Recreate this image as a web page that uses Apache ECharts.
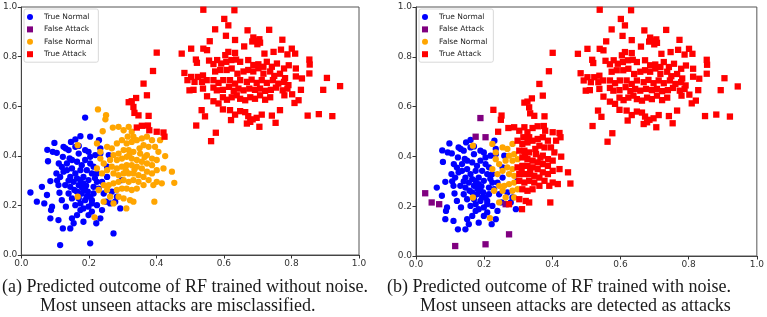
<!DOCTYPE html>
<html>
<head>
<meta charset="utf-8">
<script src="https://cdn.jsdelivr.net/npm/echarts@6/dist/echarts.min.js"></script>
<style>
    html, body {margin: 0; padding: 0; background: #fff;}
    #chart {width: 767px; height: 317px;}
</style>
</head>
<body>
<div id="chart"></div>
<script>
var seriesNames = ['True Normal', 'False Attack', 'False Normal', 'True Attack'];
var tickLabels = ['0.0', '0.2', '0.4', '0.6', '0.8', '1.0'];
var captions = [
    '(a) Predicted outcome of RF trained without noise.',
    'Most unseen attacks are misclassified.',
    '(b) Predicted outcome of RF trained with noise.',
    'Most unseen attacks are detected as attacks'
];

// normal samples, blue in both panels
var normalBase = [
    [0.061, 0.275], [0.076, 0.242], [0.086, 0.148], [0.088, 0.181], [0.091, 0.195], [0.086, 0.298], [0.079, 0.378],
    [0.077, 0.424], [0.098, 0.452], [0.093, 0.416], [0.105, 0.412], [0.104, 0.329], [0.111, 0.369], [0.110, 0.282],
    [0.113, 0.251], [0.110, 0.141], [0.123, 0.107], [0.125, 0.436], [0.123, 0.396], [0.131, 0.430], [0.135, 0.342],
    [0.120, 0.221], [0.132, 0.195], [0.140, 0.423], [0.147, 0.456], [0.160, 0.466], [0.160, 0.436], [0.170, 0.409],
    [0.135, 0.369], [0.150, 0.383], [0.165, 0.376], [0.145, 0.315], [0.160, 0.329], [0.175, 0.342], [0.184, 0.315],
    [0.130, 0.282], [0.145, 0.275], [0.155, 0.295], [0.170, 0.282], [0.184, 0.289], [0.199, 0.302], [0.140, 0.248],
    [0.150, 0.228], [0.165, 0.255], [0.179, 0.248], [0.197, 0.255], [0.204, 0.235], [0.189, 0.221], [0.175, 0.208],
    [0.160, 0.201], [0.184, 0.188], [0.199, 0.195], [0.175, 0.181], [0.165, 0.161], [0.150, 0.148], [0.155, 0.128],
    [0.145, 0.107], [0.184, 0.134], [0.199, 0.161], [0.209, 0.175], [0.224, 0.201], [0.209, 0.208], [0.230, 0.463],
    [0.189, 0.423], [0.199, 0.416], [0.204, 0.396], [0.219, 0.403], [0.234, 0.430], [0.234, 0.409], [0.189, 0.383],
    [0.204, 0.369], [0.214, 0.356], [0.209, 0.329], [0.224, 0.329], [0.224, 0.295], [0.239, 0.295], [0.214, 0.275],
    [0.229, 0.268], [0.244, 0.248], [0.254, 0.315], [0.254, 0.356], [0.259, 0.403], [0.239, 0.181], [0.234, 0.148],
    [0.222, 0.128], [0.251, 0.215], [0.278, 0.215], [0.293, 0.188], [0.268, 0.255], [0.283, 0.235], [0.298, 0.302],
    [0.150, 0.349], [0.179, 0.362], [0.194, 0.342], [0.115, 0.315], [0.125, 0.336], [0.165, 0.309], [0.189, 0.262],
    [0.175, 0.302], [0.214, 0.248], [0.194, 0.235], [0.209, 0.221], [0.140, 0.300], [0.157, 0.262], [0.120, 0.355],
    [0.192, 0.280], [0.170, 0.228], [0.143, 0.390], [0.218, 0.310], [0.106, 0.300], [0.170, 0.440], [0.180, 0.270]
];
// normal samples that the noisy model flags as attacks (purple on the right)
var normalOutliers = [
    [0.027, 0.252], [0.046, 0.215], [0.068, 0.208], [0.115, 0.040], [0.204, 0.047], [0.273, 0.087], [0.189, 0.554],
    [0.175, 0.479], [0.204, 0.477], [0.263, 0.208]
];
// unseen attacks missed by both models
var attackLow = [
    [0.224, 0.450], [0.167, 0.443], [0.234, 0.416], [0.254, 0.436], [0.268, 0.430], [0.283, 0.450], [0.288, 0.409],
    [0.273, 0.403], [0.263, 0.383], [0.283, 0.383], [0.298, 0.389], [0.283, 0.349], [0.268, 0.356], [0.254, 0.342],
    [0.273, 0.329], [0.288, 0.322], [0.288, 0.295], [0.273, 0.289], [0.259, 0.282], [0.244, 0.282], [0.229, 0.262],
    [0.254, 0.262], [0.283, 0.262], [0.298, 0.268], [0.263, 0.235], [0.288, 0.235], [0.244, 0.215], [0.167, 0.235],
    [0.217, 0.152], [0.239, 0.329], [0.224, 0.349], [0.234, 0.389], [0.244, 0.369]
];
// unseen attacks only the noisy model catches
var attackMid = [
    [0.227, 0.587], [0.249, 0.547], [0.251, 0.564], [0.241, 0.499], [0.271, 0.514], [0.288, 0.517], [0.318, 0.517],
    [0.303, 0.503], [0.327, 0.497], [0.315, 0.477], [0.332, 0.477], [0.298, 0.463], [0.312, 0.450], [0.327, 0.456],
    [0.342, 0.463], [0.357, 0.470], [0.372, 0.477], [0.387, 0.463], [0.362, 0.443], [0.377, 0.436], [0.396, 0.436],
    [0.411, 0.463], [0.406, 0.416], [0.401, 0.383], [0.426, 0.399], [0.421, 0.349], [0.387, 0.389], [0.372, 0.403],
    [0.352, 0.409], [0.332, 0.416], [0.318, 0.423], [0.303, 0.423], [0.312, 0.396], [0.327, 0.389], [0.342, 0.383],
    [0.357, 0.376], [0.372, 0.369], [0.387, 0.362], [0.401, 0.342], [0.387, 0.329], [0.372, 0.336], [0.357, 0.349],
    [0.342, 0.356], [0.327, 0.362], [0.312, 0.362], [0.298, 0.356], [0.303, 0.329], [0.318, 0.329], [0.332, 0.329],
    [0.347, 0.322], [0.362, 0.315], [0.377, 0.302], [0.401, 0.295], [0.416, 0.289], [0.446, 0.336], [0.453, 0.291],
    [0.391, 0.282], [0.362, 0.282], [0.347, 0.295], [0.332, 0.302], [0.318, 0.295], [0.303, 0.302], [0.312, 0.268],
    [0.327, 0.262], [0.342, 0.268], [0.303, 0.228], [0.322, 0.221], [0.332, 0.215], [0.273, 0.208], [0.311, 0.188],
    [0.394, 0.215], [0.310, 0.340], [0.335, 0.345], [0.350, 0.430], [0.365, 0.395], [0.320, 0.405]
];
// attacks detected by both models
var attackTrue = [
    [0.362, 0.691], [0.390, 0.742], [0.340, 0.633], [0.372, 0.644], [0.318, 0.616], [0.327, 0.620], [0.332, 0.597],
    [0.335, 0.573], [0.347, 0.563], [0.377, 0.561], [0.342, 0.514], [0.357, 0.521], [0.375, 0.522], [0.379, 0.503],
    [0.401, 0.497], [0.421, 0.494], [0.424, 0.477],
    [0.539, 0.989], [0.631, 0.987], [0.601, 0.952], [0.613, 0.926], [0.574, 0.910], [0.670, 0.906], [0.734, 0.908],
    [0.606, 0.884], [0.633, 0.867], [0.558, 0.862], [0.687, 0.877], [0.695, 0.864], [0.705, 0.870], [0.684, 0.861],
    [0.699, 0.850], [0.707, 0.856], [0.773, 0.868], [0.660, 0.841], [0.401, 0.816], [0.475, 0.812], [0.503, 0.832],
    [0.539, 0.832], [0.550, 0.826], [0.613, 0.819], [0.633, 0.815], [0.604, 0.806], [0.720, 0.812], [0.747, 0.819],
    [0.769, 0.828], [0.788, 0.809], [0.811, 0.812], [0.801, 0.832], [0.517, 0.788], [0.520, 0.775], [0.556, 0.784],
    [0.580, 0.786], [0.592, 0.772], [0.607, 0.779], [0.622, 0.786], [0.636, 0.788], [0.648, 0.779], [0.672, 0.786],
    [0.687, 0.766], [0.702, 0.769], [0.717, 0.759], [0.727, 0.779], [0.742, 0.759], [0.757, 0.772], [0.778, 0.752],
    [0.792, 0.765], [0.813, 0.752], [0.853, 0.788], [0.854, 0.768], [0.483, 0.734], [0.503, 0.718], [0.523, 0.718],
    [0.538, 0.724], [0.569, 0.770], [0.574, 0.740], [0.589, 0.746], [0.608, 0.746], [0.623, 0.752], [0.640, 0.731],
    [0.658, 0.740], [0.672, 0.746], [0.687, 0.740], [0.702, 0.753], [0.717, 0.731], [0.737, 0.740], [0.749, 0.722],
    [0.766, 0.731], [0.781, 0.713], [0.813, 0.720], [0.831, 0.712], [0.853, 0.732], [0.905, 0.714], [0.492, 0.705],
    [0.513, 0.698], [0.535, 0.698], [0.549, 0.705], [0.569, 0.705], [0.584, 0.694], [0.598, 0.705], [0.618, 0.705],
    [0.633, 0.691], [0.648, 0.705], [0.668, 0.698], [0.682, 0.707], [0.697, 0.694], [0.712, 0.705], [0.727, 0.694],
    [0.745, 0.705], [0.761, 0.691], [0.778, 0.698], [0.791, 0.685], [0.498, 0.664], [0.510, 0.666], [0.538, 0.671],
    [0.569, 0.675], [0.579, 0.664], [0.597, 0.666], [0.615, 0.678], [0.629, 0.662], [0.643, 0.671], [0.658, 0.664],
    [0.675, 0.671], [0.692, 0.666], [0.707, 0.671], [0.722, 0.662], [0.739, 0.666], [0.754, 0.675], [0.774, 0.664],
    [0.788, 0.671], [0.828, 0.666], [0.894, 0.666], [0.944, 0.681], [0.550, 0.640], [0.569, 0.620], [0.584, 0.611],
    [0.597, 0.636], [0.609, 0.626], [0.623, 0.636], [0.638, 0.644], [0.648, 0.630], [0.663, 0.624], [0.678, 0.636],
    [0.692, 0.630], [0.707, 0.644], [0.722, 0.626], [0.737, 0.636], [0.779, 0.644], [0.802, 0.648], [0.809, 0.613],
    [0.821, 0.624], [0.534, 0.584], [0.544, 0.559], [0.597, 0.587], [0.618, 0.584], [0.633, 0.566], [0.648, 0.580],
    [0.663, 0.576], [0.672, 0.560], [0.685, 0.547], [0.697, 0.553], [0.712, 0.566], [0.742, 0.562], [0.766, 0.584],
    [0.621, 0.544], [0.668, 0.530], [0.678, 0.537], [0.705, 0.517], [0.753, 0.533], [0.848, 0.562], [0.881, 0.568],
    [0.921, 0.560], [0.518, 0.522], [0.576, 0.493], [0.562, 0.459]
];

var colors = ['#0000ff', '#800080', '#ffa500', '#ff0000'];
var symbols = ['circle', 'rect', 'circle', 'rect'];
var legendIcons = ['circle', 'path://M0,0L10,0L10,10L0,10Z', 'circle', 'path://M0,0L10,0L10,10L0,10Z'];

function makeAxis(idx) {
    return {
        type: 'value',
        gridIndex: idx,
        min: 0,
        max: 1,
        interval: 0.2,
        splitLine: {show: false},
        axisLine: {show: true, lineStyle: {color: '#444', width: 1}},
        axisTick: {show: true, length: 3.5, lineStyle: {color: '#333'}},
        axisLabel: {
            fontFamily: 'DejaVu Sans',
            fontSize: 9,
            color: '#333',
            margin: 4,
            formatter: function(v) {
                return tickLabels[Math.round(v * 5)];
            }
        }
    };
}

function makeSeries(name, idx, data) {
    var k = seriesNames.indexOf(name);
    return {
        name: name,
        type: 'scatter',
        xAxisIndex: idx,
        yAxisIndex: idx,
        symbol: symbols[k],
        symbolSize: 6.3,
        itemStyle: {color: colors[k], opacity: 1},
        data: data
    };
}

function makeLegend(left) {
    var items = [];
    for(var i in seriesNames) {
        items.push({name: seriesNames[i], icon: legendIcons[i]});
    }
    return {
        orient: 'vertical',
        left: left,
        top: 9,
        data: items,
        itemWidth: 18,
        itemHeight: 6,
        itemGap: 4.4,
        symbolKeepAspect: true,
        selectedMode: false,
        padding: [4, 6, 4, 3],
        borderColor: '#d8d8d8',
        borderWidth: 1,
        borderRadius: 2,
        backgroundColor: '#fff',
        textStyle: {fontFamily: 'DejaVu Sans', fontSize: 7.5, color: '#222', lineHeight: 7}
    };
}

var chart = echarts.init(document.getElementById('chart'), null, {renderer: 'canvas'});
var titleStyle = {fontFamily: 'Liberation Serif', fontSize: 18, fontWeight: 'normal', color: '#1a1a1a'};
chart.setOption({
    animation: false,
    backgroundColor: '#fff',
    title: [
        {text: captions[0], left: 2, top: 278, padding: 0, textStyle: titleStyle},
        {text: captions[1], left: 40, top: 297, padding: 0, textStyle: titleStyle},
        {text: captions[2], left: 387, top: 278, padding: 0, textStyle: titleStyle},
        {text: captions[3], left: 420, top: 297, padding: 0, textStyle: titleStyle}
    ],
    legend: [makeLegend(24), makeLegend(419)],
    grid: [
        {left: 21, right: 408, top: 7, bottom: 62, show: true, borderColor: '#555', borderWidth: 1},
        {left: 416, right: 10, top: 7, bottom: 61, show: true, borderColor: '#555', borderWidth: 1}
    ],
    xAxis: [makeAxis(0), makeAxis(1)],
    yAxis: [makeAxis(0), makeAxis(1)],
    series: [
        makeSeries('True Normal', 0, normalBase.concat(normalOutliers)),
        makeSeries('False Attack', 0, []),
        makeSeries('False Normal', 0, attackLow.concat(attackMid)),
        makeSeries('True Attack', 0, attackTrue),
        makeSeries('True Normal', 1, normalBase),
        makeSeries('False Attack', 1, normalOutliers),
        makeSeries('False Normal', 1, attackLow),
        makeSeries('True Attack', 1, attackTrue.concat(attackMid))
    ]
});
</script>
</body>
</html>
